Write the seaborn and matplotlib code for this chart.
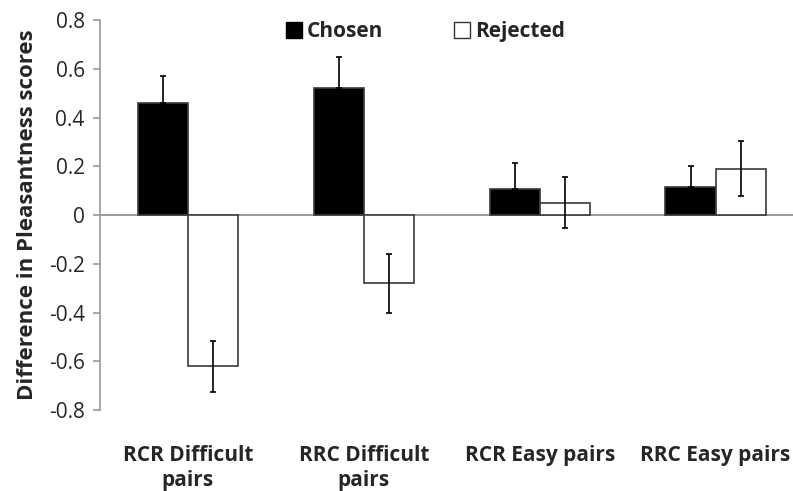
import numpy as np
import pandas as pd
import matplotlib
matplotlib.use("Agg")
import matplotlib.pyplot as plt
import seaborn as sns
from matplotlib.patches import Patch

# values
conditions = ["RCR Difficult\npairs", "RRC Difficult\npairs", "RCR Easy pairs", "RRC Easy pairs"]
chosen = [0.46, 0.52, 0.105, 0.115]
rejected = [-0.62, -0.28, 0.05, 0.19]
chosen_err = [0.11, 0.13, 0.11, 0.085]
rejected_err = [0.105, 0.12, 0.105, 0.112]
hue_levels = ["Chosen", "Rejected"]

df = pd.DataFrame({
    "condition": conditions * 2,
    "choice": ["Chosen"] * 4 + ["Rejected"] * 4,
    "value": chosen + rejected,
})

sns.set_style("white")
plt.rcParams["font.family"] = ["Open Sans", "DejaVu Sans"]

fig = plt.figure(figsize=(7.93, 4.91), dpi=100)
ax = fig.add_axes([0.126, 0.165, 0.874, 0.794])

sns.barplot(data=df, x="condition", y="value", hue="choice", order=conditions,
            hue_order=hue_levels, palette=["black", "white"], width=0.57,
            edgecolor="#3a3a3a", linewidth=1.2, errorbar=None, ax=ax, legend=False)

# error bars at bar centres; the lower half of the chosen ones is hidden
# inside the black bars in the original, so only draw the upper half there
for i, (cont, errs) in enumerate(zip(ax.containers, [chosen_err, rejected_err])):
    xs = [p.get_x() + p.get_width() / 2 for p in cont]
    ys = [p.get_y() + p.get_height() for p in cont]
    yerr = [np.zeros(len(errs)), errs] if i == 0 else errs
    ax.errorbar(xs, ys, yerr=yerr, fmt="none", ecolor="black", elinewidth=1.2,
                capsize=2, capthick=1.2)

ax.axhline(0, color="#8a8a8a", linewidth=1.2, zorder=0)
ax.set_ylim(-0.8, 0.8)
ax.set_xlim(-0.5, 3.44)
ax.set_yticks(np.arange(-0.8, 0.81, 0.2))
ax.set_yticklabels(["-0.8", "-0.6", "-0.4", "-0.2", "0", "0.2", "0.4", "0.6", "0.8"])

for s in ["top", "right", "bottom"]:
    ax.spines[s].set_visible(False)
ax.spines["left"].set_color("#9a9a9a")
ax.spines["left"].set_linewidth(1.2)
ax.tick_params(axis="y", left=True, length=5, width=1.2, color="#9a9a9a",
               labelsize=15, pad=6)
ax.tick_params(axis="x", bottom=False, labelsize=15, pad=22)
for lbl in ax.get_xticklabels():
    lbl.set_fontweight("bold")
    lbl.set_linespacing(1.25)

ax.set_xlabel("")
ax.set_ylabel("Difference in Pleasantness scores", fontsize=16, fontweight="bold", labelpad=8)

handles = [Patch(facecolor="black", edgecolor="black"),
           Patch(facecolor="white", edgecolor="#333333")]
ax.legend(handles, hue_levels, loc="upper center", bbox_to_anchor=(0.47, 1.045),
          ncol=2, frameon=False, handlelength=0.75, handleheight=0.75,
          handletextpad=0.25, columnspacing=3.4, prop={"weight": "bold", "size": 15})

fig.savefig("out.png", dpi=100)
